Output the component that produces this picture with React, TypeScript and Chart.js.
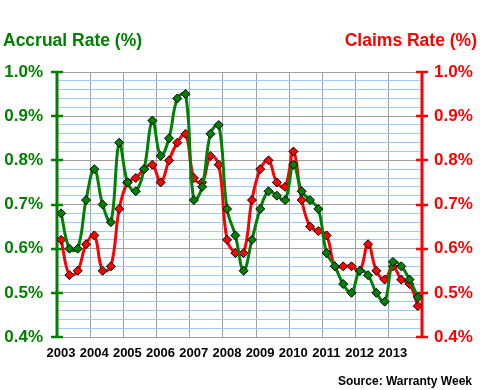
import React, { useEffect, useRef } from 'react';
import { Chart, registerables } from 'chart.js';

Chart.register(...registerables);

// ---- data (quarterly, 2003 Q1 .. 2013 Q4) ----
const FIRST_YEAR = 2003;
const LAST_YEAR = 2014;
const yearLabels = ['2003', '2004', '2005', '2006', '2007', '2008', '2009', '2010', '2011', '2012', '2013'];
const accrualRate = [
  0.68, 0.60, 0.60, 0.71,
  0.78, 0.70, 0.66, 0.84,
  0.75, 0.73, 0.78, 0.89,
  0.81, 0.85, 0.94, 0.95,
  0.71, 0.74, 0.86, 0.88,
  0.69, 0.63, 0.55, 0.62,
  0.69, 0.73, 0.72, 0.71,
  0.79, 0.73, 0.71, 0.69,
  0.59, 0.56, 0.52, 0.50,
  0.55, 0.54, 0.50, 0.48,
  0.57, 0.56, 0.53, 0.49,
];
const claimsRate = [
  0.62, 0.54, 0.55, 0.61,
  0.63, 0.55, 0.56, 0.69,
  0.75, 0.76, 0.78, 0.79,
  0.75, 0.80, 0.84, 0.86,
  0.76, 0.75, 0.81, 0.79,
  0.62, 0.59, 0.59, 0.71,
  0.78, 0.80, 0.75, 0.74,
  0.82, 0.71, 0.65, 0.64,
  0.63, 0.56, 0.56, 0.56,
  0.55, 0.61, 0.55, 0.53,
  0.56, 0.53, 0.52, 0.47,
];
const Y_MIN = 0.4;
const Y_MAX = 1.0;
const MAJOR_STEP = 0.1;
const MINOR_STEP = 0.02;

// ---- styles ----
const GREEN = '#008000';
const RED = '#ff0000';
const GRID_GRAY = '#a0a0a0';
const GRID_BLUE = '#99ccff';
const FONT = '"Liberation Sans", Arial, Helvetica, sans-serif';

const quarterX = (i: number) => FIRST_YEAR + (i + 0.5) / 4;
const isMajor = (v: number) => Math.abs(v / MAJOR_STEP - Math.round(v / MAJOR_STEP)) < 1e-6;
const fmtPct = (v: number) => v.toFixed(1) + '%';

const axisPlugin = {
  id: 'dualAxisLines',
  beforeDatasetsDraw(chart: any) {
    const { ctx, chartArea } = chart;
    const draw = (scale: any, x: number, color: string) => {
      ctx.save();
      ctx.strokeStyle = color;
      ctx.lineWidth = 3;
      ctx.beginPath();
      ctx.moveTo(x, chartArea.top);
      ctx.lineTo(x, chartArea.bottom);
      ctx.stroke();
      ctx.lineWidth = 2.5;
      scale.ticks.forEach((t: any) => {
        if (!isMajor(t.value)) return;
        const py = Math.round(scale.getPixelForValue(t.value));
        ctx.beginPath();
        ctx.moveTo(x - 6, py);
        ctx.lineTo(x + 6, py);
        ctx.stroke();
      });
      ctx.restore();
    };
    draw(chart.scales.y, chartArea.left, GREEN);
    draw(chart.scales.y2, chartArea.right, RED);
  },
};

export default function App() {
  const canvasRef = useRef<HTMLCanvasElement | null>(null);

  useEffect(() => {
    const canvas = canvasRef.current;
    if (!canvas) return;
    const chart = new Chart(canvas, {
      type: 'line',
      data: {
        datasets: [
          {
            label: 'Accrual Rate (%)',
            data: accrualRate.map((v, i) => ({ x: quarterX(i), y: v })),
            yAxisID: 'y',
            borderColor: GREEN,
            backgroundColor: GREEN,
            borderWidth: 3,
            tension: 0.4,
            pointStyle: 'rectRot',
            pointRadius: 4.5,
            pointBackgroundColor: GREEN,
            pointBorderColor: '#000000',
            pointBorderWidth: 1,
            order: 0,
          },
          {
            label: 'Claims Rate (%)',
            data: claimsRate.map((v, i) => ({ x: quarterX(i), y: v })),
            yAxisID: 'y2',
            borderColor: RED,
            backgroundColor: RED,
            borderWidth: 3,
            tension: 0.4,
            pointStyle: 'rectRot',
            pointRadius: 4.5,
            pointBackgroundColor: RED,
            pointBorderColor: '#000000',
            pointBorderWidth: 1,
            order: 1,
          },
        ],
      },
      options: {
        responsive: false,
        animation: false,
        events: [],
        layout: { padding: { top: 72, left: 0, right: 0, bottom: 0 } },
        plugins: {
          legend: { display: false },
          tooltip: { enabled: false },
          title: { display: false },
        },
        scales: {
          x: {
            type: 'linear',
            min: FIRST_YEAR,
            max: LAST_YEAR,
            afterFit: (s: any) => { s.height = 53; },
            grid: { color: GRID_GRAY, lineWidth: 1, drawTicks: false },
            border: { display: true, color: GRID_GRAY, width: 1 },
            ticks: {
              stepSize: 1,
              autoSkip: false,
              maxRotation: 0,
              labelOffset: 4,
              padding: 9,
              color: '#000000',
              font: { family: FONT, size: 13, weight: 'bold' },
              callback: (v: any) => {
                const idx = Math.round(Number(v)) - FIRST_YEAR;
                return yearLabels[idx] ?? '';
              },
            },
          },
          y: {
            type: 'linear',
            position: 'left',
            min: Y_MIN,
            max: Y_MAX,
            afterFit: (s: any) => { s.width = 57; },
            grid: {
              drawTicks: false,
              lineWidth: 1,
              color: (c: any) => (c.tick && isMajor(c.tick.value) ? GRID_GRAY : GRID_BLUE),
            },
            border: { display: false },
            ticks: {
              stepSize: MINOR_STEP,
              maxTicksLimit: 100,
              autoSkip: false,
              padding: 14,
              color: GREEN,
              font: { family: FONT, size: 17, weight: 'bold' },
              callback: (v: any) => (isMajor(Number(v)) ? fmtPct(Number(v)) : ''),
            },
          },
          y2: {
            type: 'linear',
            position: 'right',
            min: Y_MIN,
            max: Y_MAX,
            afterFit: (s: any) => { s.width = 58; },
            grid: { drawOnChartArea: false, drawTicks: false },
            border: { display: false },
            ticks: {
              stepSize: MAJOR_STEP,
              autoSkip: false,
              padding: 12,
              color: RED,
              font: { family: FONT, size: 17, weight: 'bold' },
              callback: (v: any) => fmtPct(Number(v)),
            },
          },
        },
      },
      plugins: [axisPlugin],
    } as any);
    return () => chart.destroy();
  }, []);

  return (
    <div style={{ position: 'absolute', left: 0, top: 0, width: 480, height: 390, background: '#ffffff', overflow: 'hidden' }}>
      <canvas ref={canvasRef} width={480} height={390} style={{ position: 'absolute', left: 0, top: 0, width: 480, height: 390 }} />
      <div style={{ position: 'absolute', left: 3, top: 32, fontFamily: FONT, fontWeight: 'bold', fontSize: 17.5, lineHeight: '17px', color: GREEN, whiteSpace: 'nowrap' }}>
        Accrual Rate (%)
      </div>
      <div style={{ position: 'absolute', right: 3, top: 32, fontFamily: FONT, fontWeight: 'bold', fontSize: 17.5, lineHeight: '17px', color: RED, whiteSpace: 'nowrap' }}>
        Claims Rate (%)
      </div>
      <div style={{ position: 'absolute', right: 8, top: 375, fontFamily: FONT, fontWeight: 'bold', fontSize: 12, lineHeight: '12px', color: '#000000', whiteSpace: 'nowrap' }}>
        Source: Warranty Week
      </div>
    </div>
  );
}
